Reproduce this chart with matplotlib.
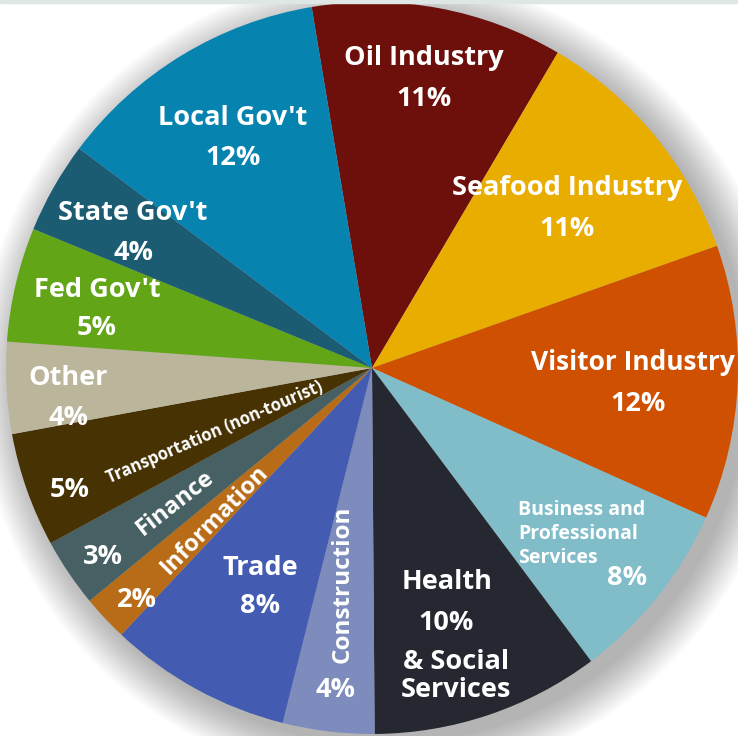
import matplotlib
matplotlib.use("Agg")
import matplotlib.pyplot as plt
from matplotlib.patches import Circle, Rectangle

# ---- data (clockwise from the top) ----
categories = ["Oil Industry", "Seafood Industry", "Visitor Industry",
              "Business and Professional Services", "Health & Social Services",
              "Construction", "Trade", "Information", "Finance",
              "Transportation (non-tourist)", "Other", "Fed Gov't",
              "State Gov't", "Local Gov't"]
values = [11, 11, 12, 8, 10, 4, 8, 2, 3, 5, 4, 5, 4, 12]
pct_labels = ["11%", "11%", "12%", "8%", "10%", "4%", "8%", "2%", "3%", "5%",
              "4%", "5%", "4%", "12%"]
colors = ["#6d0f0b", "#e9ad00", "#cf5000", "#80bdc9", "#252830", "#7d8cbc",
          "#435bb1", "#b96c17", "#466063", "#473203", "#bbb59c", "#62a618",
          "#1b5c72", "#0783b0"]

W, H = 738, 736
CX, CY, R = 372, 368, 366

fig = plt.figure(figsize=(W / 100, H / 100), dpi=100)
ax = fig.add_axes([0, 0, 1, 1])
ax.set_xlim(-CX / R, (W - CX) / R)
ax.set_ylim(-(H - CY) / R, CY / R)
ax.set_aspect("equal")
ax.axis("off")

# soft shadow (mostly towards the lower right)
for i in range(16):
    ax.add_patch(Circle((0.03, -0.03), 1.0 + 0.007 * i, color="#000000",
                        alpha=0.018, lw=0, zorder=0))

ax.pie(values, colors=colors, startangle=99.5, counterclock=False, radius=1.0,
       wedgeprops=dict(linewidth=0, antialiased=True))
ax.set_xlim(-CX / R, (W - CX) / R)
ax.set_ylim(-(H - CY) / R, CY / R)

fig.patches.append(Rectangle((0, 1 - 3 / H), 1, 3 / H, transform=fig.transFigure,
                             color="#dfe6e6", zorder=0))

FONT = "Open Sans"


def P(px, py):
    return (px - CX) / R, (CY - py) / R


def txt(px, py, s, size=19.5, rot=0, ha="center"):
    x, y = P(px, py)
    ax.text(x, y, s, color="white", fontsize=size, fontweight="bold",
            family=FONT, ha=ha, va="center", rotation=rot,
            rotation_mode="anchor", zorder=5)

# label layout (pixel positions)
txt(424, 58, categories[0])
txt(424, 99, pct_labels[0])
txt(567, 188, categories[1])
txt(567, 229, pct_labels[1])
txt(735, 363, categories[2], size=19, ha="right")
txt(638, 404, pct_labels[2])
for i, line in enumerate(["Business and", "Professional", "Services"]):
    txt(518, 510 + 24 * i, line, size=14, ha="left")
txt(627, 578, pct_labels[3])
txt(447, 582, "Health")
txt(446, 623, pct_labels[4])
txt(456, 662, "& Social")
txt(456, 690, "Services")
txt(343, 584, categories[5], size=17.5, rot=90)
txt(335, 690, pct_labels[5])
txt(260, 568, categories[6])
txt(260, 606, pct_labels[6])
txt(215, 520, categories[7], size=17, rot=45.5)
txt(137, 600, pct_labels[7])
txt(175, 503, categories[8], size=17, rot=38)
txt(103, 557, pct_labels[8])
txt(215, 432, categories[9], size=12, rot=23.4)
txt(70, 490, pct_labels[9])
txt(68, 378, categories[10])
txt(68, 418, pct_labels[10])
txt(97, 290, categories[11])
txt(97, 328, pct_labels[11])
txt(133, 213, categories[12])
txt(133, 253, pct_labels[12])
txt(233, 118, categories[13])
txt(233, 158, pct_labels[13])

fig.savefig("out.png", dpi=100, facecolor="white")
